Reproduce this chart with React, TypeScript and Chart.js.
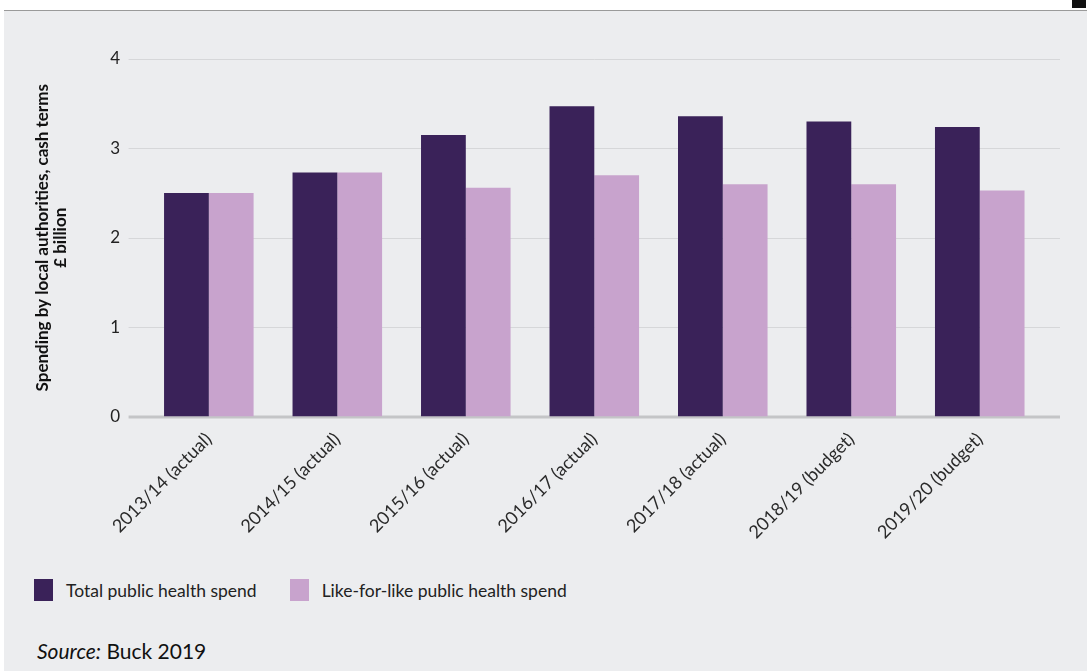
import React, { useEffect, useRef } from "react";
import { Chart, registerables } from "chart.js";

Chart.register(...registerables);

const categories = [
  "2013/14 (actual)",
  "2014/15 (actual)",
  "2015/16 (actual)",
  "2016/17 (actual)",
  "2017/18 (actual)",
  "2018/19 (budget)",
  "2019/20 (budget)",
];
const totalSpend = [2.5, 2.73, 3.15, 3.47, 3.36, 3.3, 3.24];
const likeForLikeSpend = [2.5, 2.73, 2.56, 2.7, 2.6, 2.6, 2.53];
const seriesNames = ["Total public health spend", "Like-for-like public health spend"];
const yTicks = [0, 1, 2, 3, 4];
const yTitle = ["Spending by local authorities, cash terms", "£ billion"];
const sourceLabel = "Source:";
const sourceText = " Buck 2019";

const DARK = "#3a2259";
const LIGHT = "#c8a3cd";
const FONT = "Lato, 'Noto Sans', sans-serif";

const gridPlugin = {
  id: "extGrid",
  beforeDatasetsDraw(chart: any) {
    const { ctx, chartArea, scales } = chart;
    const y = scales.y;
    const left = chartArea.left - 16;
    const right = chartArea.right + 16;
    ctx.save();
    yTicks.forEach((v) => {
      const py = y.getPixelForValue(v);
      ctx.beginPath();
      if (v === 0) {
        ctx.strokeStyle = "#c4c5c7";
        ctx.lineWidth = 3;
      } else {
        ctx.strokeStyle = "#d6d7d9";
        ctx.lineWidth = 1;
      }
      ctx.moveTo(left, Math.round(py) + (v === 0 ? 0 : 0.5));
      ctx.lineTo(right, Math.round(py) + (v === 0 ? 0 : 0.5));
      ctx.stroke();
    });
    ctx.restore();
  },
};

export default function App() {
  const ref = useRef<HTMLCanvasElement>(null);
  useEffect(() => {
    document.body.style.margin = "0";
    const chart = new Chart(ref.current as HTMLCanvasElement, {
      type: "bar",
      data: {
        labels: categories,
        datasets: [
          { label: seriesNames[0], data: totalSpend, backgroundColor: DARK, borderWidth: 0 },
          { label: seriesNames[1], data: likeForLikeSpend, backgroundColor: LIGHT, borderWidth: 0 },
        ],
      },
      options: {
        animation: false,
        responsive: false,
        maintainAspectRatio: false,
        layout: { padding: { left: 33, right: 43, top: 48, bottom: 11 } },
        plugins: { legend: { display: false }, tooltip: { enabled: false } },
        datasets: { bar: { categoryPercentage: 0.697, barPercentage: 1 } },
        scales: {
          x: {
            offset: true,
            grid: { display: false, drawTicks: false },
            border: { display: false },
            ticks: {
              color: "#2a2a2a",
              font: { family: FONT, size: 18 },
              maxRotation: 45,
              minRotation: 45,
              padding: 12,
            },
          },
          y: {
            min: 0,
            max: 4,
            grid: { display: false, drawTicks: false },
            border: { display: false },
            ticks: {
              stepSize: 1,
              color: "#222",
              font: { family: FONT, size: 17 },
              padding: 24.5,
            },
            title: {
              display: true,
              text: yTitle,
              color: "#111",
              font: { family: FONT, size: 17, weight: "bold", lineHeight: 1.08 },
              padding: { top: 0, bottom: 16 },
            },
          },
        },
      },
      plugins: [gridPlugin],
    });
    return () => chart.destroy();
  }, []);

  return (
    <div style={{ position: "relative", width: 1087, height: 671, background: "#fff", overflow: "hidden" }}>
      <div
        style={{
          position: "absolute",
          left: 4,
          top: 10,
          right: 0,
          bottom: 0,
          background: "#ecedef",
          borderTop: "1px solid #9a9a9a",
        }}
      />
      <div style={{ position: "absolute", left: 1072, top: 0, width: 14, height: 8, background: "#111" }} />
      <canvas ref={ref} width={1087} height={555} style={{ position: "absolute", left: 0, top: 11 }} />
      <div
        style={{
          position: "absolute",
          left: 34,
          top: 579,
          display: "flex",
          alignItems: "center",
          fontFamily: FONT,
          fontSize: 17.5,
          color: "#222",
        }}
      >
        <span style={{ display: "inline-block", width: 19, height: 22, background: DARK, marginRight: 13 }} />
        <span style={{ marginRight: 33 }}>{seriesNames[0]}</span>
        <span style={{ display: "inline-block", width: 19, height: 22, background: LIGHT, marginRight: 13 }} />
        <span>{seriesNames[1]}</span>
      </div>
      <div
        style={{
          position: "absolute",
          left: 37,
          top: 638,
          fontFamily: FONT,
          fontSize: 21,
          color: "#111",
        }}
      >
        <i>{sourceLabel}</i>
        {sourceText}
      </div>
    </div>
  );
}
